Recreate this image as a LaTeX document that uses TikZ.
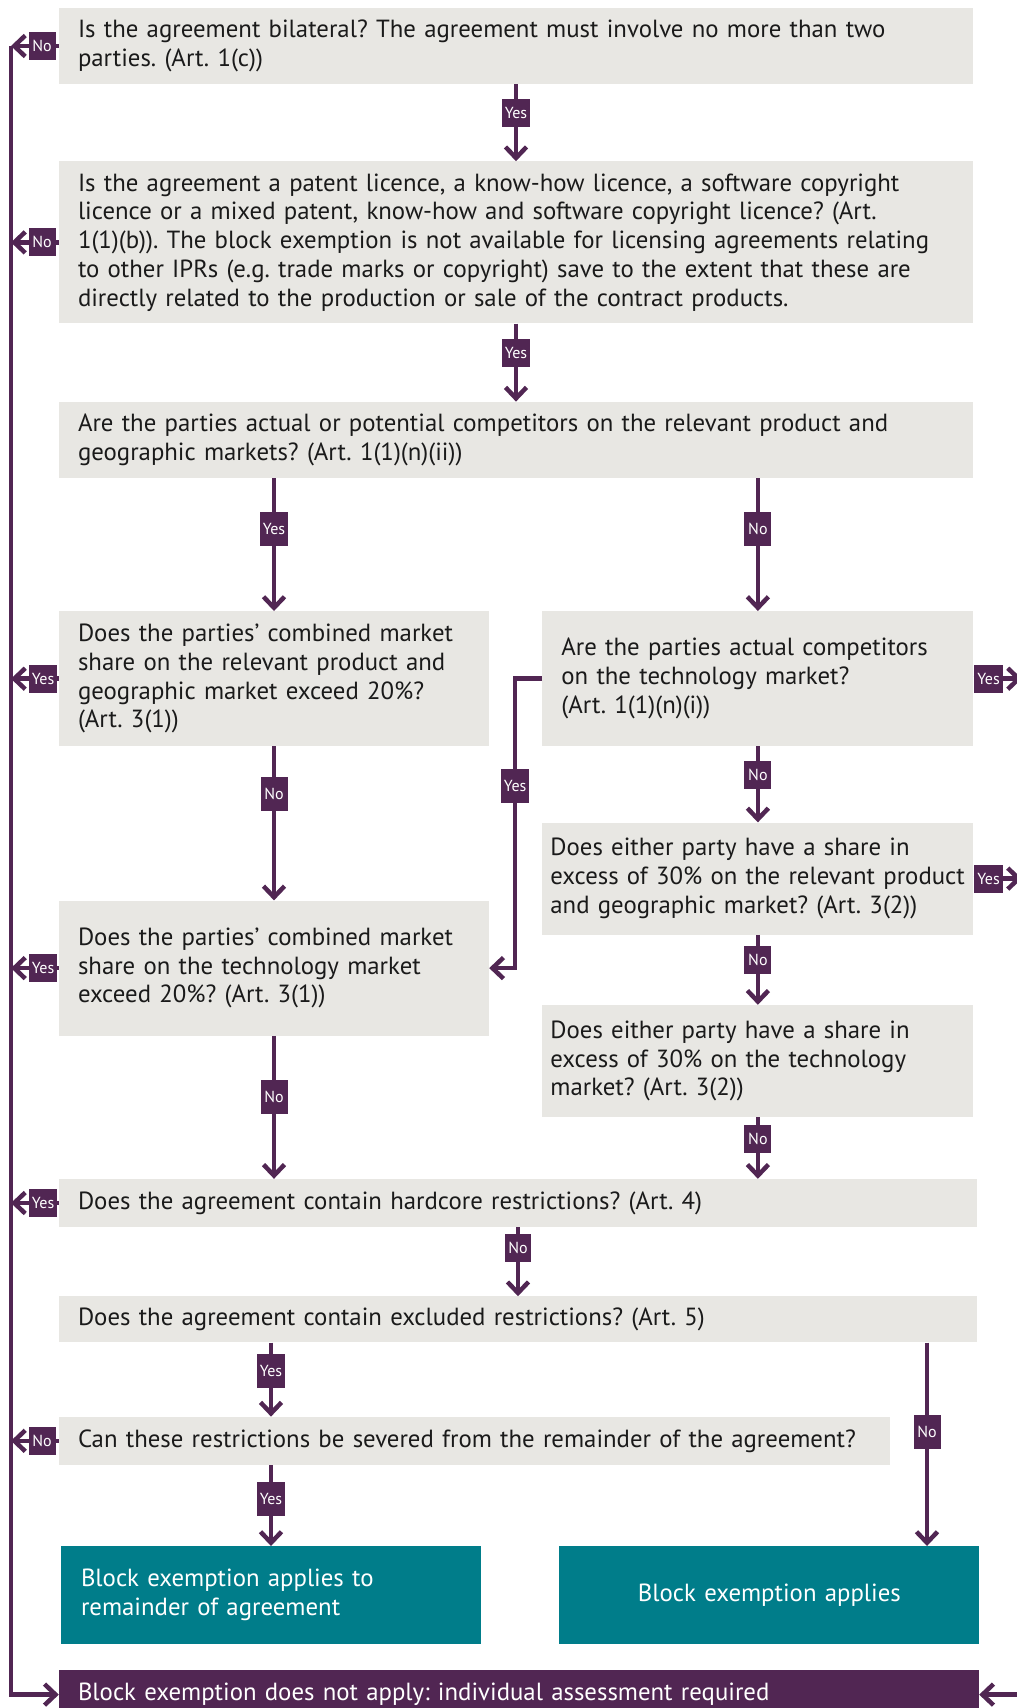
\documentclass[tikz,border=0pt]{standalone}
\usepackage{fontspec}
\setmainfont{PT Sans}
\frenchspacing
\usetikzlibrary{arrows.meta,positioning}
\definecolor{lexpurple}{RGB}{81,38,83}
\definecolor{lexgrey}{RGB}{232,231,227}
\definecolor{lexteal}{RGB}{0,125,138}
\definecolor{lexink}{RGB}{26,26,26}
\tikzset{
	qbox/.style={fill=lexgrey, text=lexink, inner xsep=19pt, inner ysep=4pt, align=left,
		font=\fontsize{24.8}{28.8}\selectfont},
	endbox/.style={fill=lexteal, text=white, inner xsep=20pt, inner ysep=4pt,
		font=\fontsize{24.8}{28.8}\selectfont},
	tag/.style={fill=lexpurple, text=white, inner xsep=3pt, inner ysep=2pt,
		minimum height=28pt, minimum width=27pt, font=\fontsize{16}{18}\selectfont},
	tall/.style={minimum height=34pt},
	flow/.style={draw=lexpurple, line width=4.5pt, -{Straight Barb[length=11pt,width=21pt]}},
}
\begin{document}
\begin{tikzpicture}[x=1pt,y=-1pt]
	\useasboundingbox (0,0) rectangle (1017,1708);
	% rails
	\coordinate (railL) at (11,0);
	\coordinate (railR) at (1022,0);
	\coordinate (xno) at (927,0);
	% draw question nodes
	\node[qbox,
	text width=876pt,
	minimum height=76pt] (q1) at (516,46) {
	Is the agreement bilateral? The agreement must involve no more than two\\
	parties. (Art. 1(c))
	};
	\node[qbox,
	text width=876pt,
	minimum height=162pt,
	below=77pt of q1] (q2) {
	Is the agreement a patent licence, a know-how licence, a software copyright\\
	licence or a mixed patent, know-how and software copyright licence? (Art.\\
	1(1)(b)). The block exemption is not available for licensing agreements relating\\
	to other IPRs (e.g. trade marks or copyright) save to the extent that these are\\
	directly related to the production or sale of the contract products.
	};
	\node[qbox,
	text width=876pt,
	minimum height=76pt,
	below=78pt of q2] (q3) {
	Are the parties actual or potential competitors on the relevant product and\\
	geographic markets? (Art. 1(1)(n)(ii))
	};
	\node[qbox,
	text width=392pt,
	minimum height=135pt,
	below right=133pt and 0pt of q3.south west] (q4L) {
	Does the parties’ combined market\\
	share on the relevant product and\\
	geographic market exceed 20\%?\\
	(Art. 3(1))
	};
	\node[qbox,
	text width=393pt,
	minimum height=135pt,
	right=53pt of q4L] (q4R) {
	Are the parties actual competitors\\
	on the technology market?\\
	(Art. 1(1)(n)(i))
	};
	\node[qbox,
	inner xsep=8pt,
	text width=415pt,
	minimum height=112pt,
	below=76pt of q4R] (q5R) {
	Does either party have a share in\\
	excess of 30\% on the relevant product\\
	and geographic market? (Art. 3(2))
	};
	\node[qbox,
	inner xsep=8pt,
	text width=415pt,
	minimum height=112pt,
	below=70pt of q5R] (q6R) {
	Does either party have a share in\\
	excess of 30\% on the technology\\
	market? (Art. 3(2))
	};
	\node[qbox,
	text width=392pt,
	minimum height=135pt,
	below=154pt of q4L] (q5L) {
	Does the parties’ combined market\\
	share on the technology market\\
	exceed 20\%? (Art. 3(1))
	};
	\node[qbox,
	text width=880pt,
	minimum height=48pt,
	below right=143pt and 0pt of q5L.south west] (q7) {
	Does the agreement contain hardcore restrictions? (Art. 4)
	};
	\node[qbox,
	text width=880pt,
	minimum height=46pt,
	below=69pt of q7] (q8) {
	Does the agreement contain excluded restrictions? (Art. 5)
	};
	\node[qbox,
	text width=793pt,
	minimum height=48pt,
	below right=74pt and 0pt of q8.south west] (q9) {
	Can these restrictions be severed from the remainder of the agreement?
	};
	% draw outcome nodes
	\node[endbox,
	text width=380pt,
	minimum height=98pt,
	align=left,
	below right=81pt and 2pt of q9.south west] (r1) {
	Block exemption applies to\\
	remainder of agreement
	};
	\node[endbox,
	text width=380pt,
	minimum height=98pt,
	align=center,
	right=78pt of r1] (r2) {
	Block exemption applies
	};
	\node[endbox,
	fill=lexpurple,
	inner xsep=19pt,
	text width=882pt,
	minimum height=50pt,
	align=left,
	below right=25pt and -2pt of r1.south west] (r3) {
	Block exemption does not apply: individual assessment required
	};
	% Arrows down
	\draw[flow] (q1) edge node[tag,pos=0.38] {Yes} (q2)
	(q2) edge node[tag,pos=0.38] {Yes} (q3);
	\draw[flow] (q3.south -| q4L.north) -- node[tag,tall,pos=0.38] {Yes} (q4L.north);
	\draw[flow] (q3.south -| q4R.north) -- node[tag,tall,pos=0.38] {No} (q4R.north);
	\draw[flow] (q4L) edge node[tag,tall,pos=0.31] {No} (q5L)
	(q4R) edge node[tag,pos=0.38] {No} (q5R)
	(q5R) edge node[tag,pos=0.36] {No} (q6R);
	\draw[flow] (q4R.west) -- ++(-27,0) |- node[tag,tall,pos=0.185] {Yes} (q5L.east);
	\draw[flow] (q5L.south) -- node[tag,tall,pos=0.43] {No} (q5L.south |- q7.north);
	\draw[flow] (q6R.south) -- node[tag,pos=0.35] {No} (q6R.south |- q7.north);
	\draw[flow] (q7) edge node[tag,pos=0.30,minimum width=20pt] {No} (q8);
	\draw[flow] (q8.south -| r1.north) -- node[tag,tall,pos=0.39] {Yes} (q9.north -| r1.north);
	\draw[flow] (q8.south -| xno) -- node[tag,tall,pos=0.44] {No} (r2.north -| xno);
	\draw[flow] (q9.south -| r1.north) -- node[tag,tall,pos=0.42] {Yes} (r1.north);
	% Arrows to the rails
	\draw[flow] (q1.west) -- node[tag,pos=0.35] {No} (q1.west -| railL);
	\draw[flow] (q2.west) -- node[tag,pos=0.35] {No} (q2.west -| railL);
	\draw[flow] (q4L.west) -- node[tag,pos=0.33] {Yes} (q4L.west -| railL);
	\draw[flow] (q5L.west) -- node[tag,pos=0.33] {Yes} (q5L.west -| railL);
	\draw[flow] (q7.west) -- node[tag,pos=0.33] {Yes} (q7.west -| railL);
	\draw[flow] (q9.west) -- node[tag,pos=0.35] {No} (q9.west -| railL);
	\draw[flow] (q4R.east) -- node[tag,pos=0.31] {Yes} (q4R.east -| railR);
	\draw[flow] (q5R.east) -- node[tag,pos=0.31] {Yes} (q5R.east -| railR);
	\draw[flow] (q1.west -| railL) -- (r3.west -| railL) -- (r3.west);
	\draw[flow] (r3.east -| railR) -- (r3.east);
\end{tikzpicture}
\end{document}
